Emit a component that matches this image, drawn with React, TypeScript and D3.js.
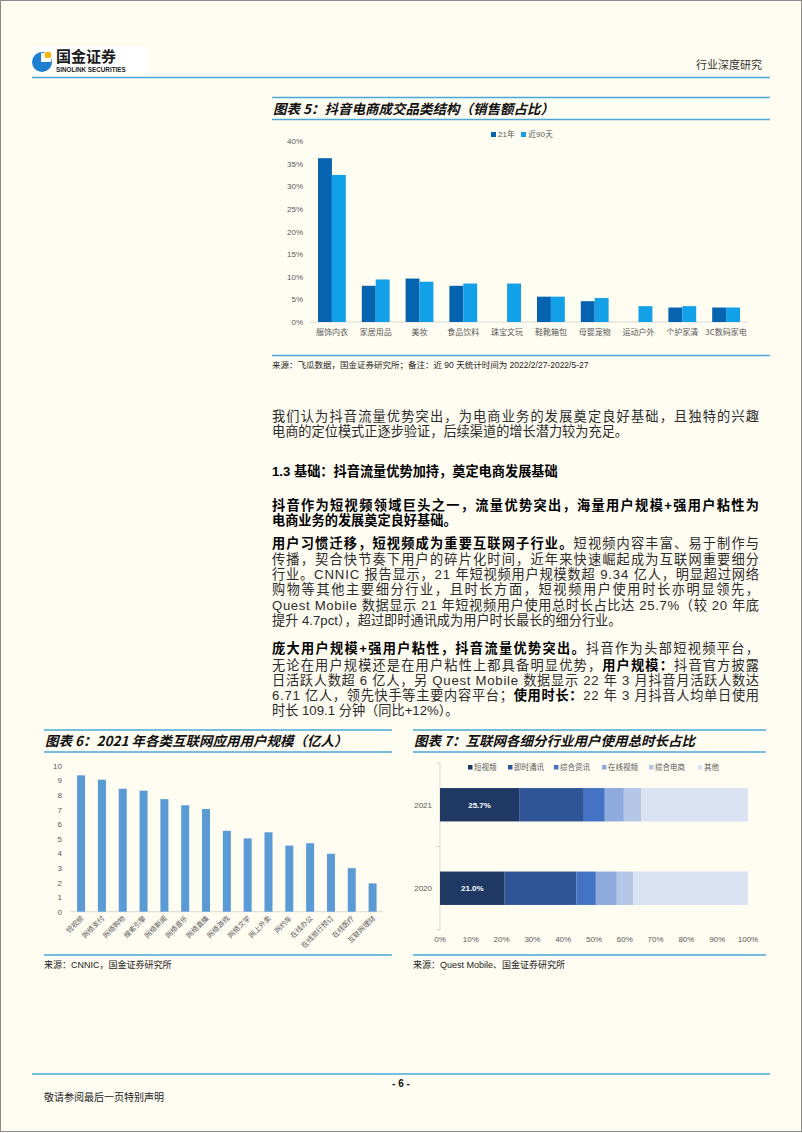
import { useLayoutEffect } from 'react';
import * as d3 from 'd3';

// ---- chart 5 data ----
const c5Cats = ['服饰内衣', '家居用品', '美妆', '食品饮料', '珠宝文玩', '鞋靴箱包', '母婴宠物', '运动户外', '个护家清', '3C数码家电'];
const c5Series = ['21年', '近90天'];
const c5Y21 = [36.2, 8.0, 9.6, 8.0, null, 5.6, 4.6, null, 3.2, 3.2];
const c5Y90 = [32.5, 9.4, 8.9, 8.5, 8.5, 5.6, 5.3, 3.5, 3.5, 3.2];
const c5Ticks = [0, 5, 10, 15, 20, 25, 30, 35, 40];

// ---- chart 6 data ----
const c6Cats = ['短视频', '网络支付', '网络购物', '搜索引擎', '网络新闻', '网络音乐', '网络直播', '网络游戏', '网络文学', '网上外卖', '网约车', '在线办公', '在线旅行预订', '在线医疗', '互联网理财'];
const c6Vals = [9.34, 9.04, 8.42, 8.29, 7.71, 7.29, 7.03, 5.54, 5.02, 5.44, 4.53, 4.69, 3.97, 2.98, 1.94];
const c6Ticks = [0, 1, 2, 3, 4, 5, 6, 7, 8, 9, 10];

// ---- chart 7 data ----
const c7Years = ['2021', '2020'];
const c7Keys = ['短视频', '即时通讯', '综合资讯', '在线视频', '综合电商', '其他'];
const c7Short = [25.7, 21.0];
const c7IM = [21.0, 23.3];
const c7News = [6.8, 6.3];
const c7Video = [6.2, 6.8];
const c7Ecom = [5.6, 5.3];
const c7Other = [34.7, 37.3];
const c7Ticks = [0, 10, 20, 30, 40, 50, 60, 70, 80, 90, 100];

const c7Colors = ['#1f3864', '#2f5597', '#4472c4', '#8faadc', '#b4c7e7', '#dae3f3'];
const LINE = '#4aa8dc';
const SANS = '"Liberation Sans", Arial, "Noto Sans CJK SC", sans-serif';
const CJK = '"Noto Sans CJK SC", "Liberation Sans", sans-serif';
const GRAY = '#595959';

type Seg = { t: string; b?: boolean };
type Line = { y: number; segs: Seg[]; justify?: boolean; bold?: boolean };

const bodyLines: Line[] = [
  { y: 421, justify: true, segs: [{ t: '我们认为抖音流量优势突出，为电商业务的发展奠定良好基础，且独特的兴趣' }] },
  { y: 436, segs: [{ t: '电商的定位模式正逐步验证，后续渠道的增长潜力较为充足。' }] },
  { y: 476, segs: [{ t: '1.3 基础：抖音流量优势加持，奠定电商发展基础', b: true }] },
  { y: 510, justify: true, segs: [{ t: '抖音作为短视频领域巨头之一，流量优势突出，海量用户规模+强用户粘性为', b: true }] },
  { y: 525, segs: [{ t: '电商业务的发展奠定良好基础。', b: true }] },
  { y: 548, justify: true, segs: [{ t: '用户习惯迁移，短视频成为重要互联网子行业。', b: true }, { t: '短视频内容丰富、易于制作与' }] },
  { y: 564, justify: true, segs: [{ t: '传播，契合快节奏下用户的碎片化时间，近年来快速崛起成为互联网重要细分' }] },
  { y: 579, justify: true, segs: [{ t: '行业。CNNIC 报告显示，21 年短视频用户规模数超 9.34 亿人，明显超过网络' }] },
  { y: 594, justify: true, segs: [{ t: '购物等其他主要细分行业，且时长方面，短视频用户使用时长亦明显领先，' }] },
  { y: 610, justify: true, segs: [{ t: 'Quest Mobile 数据显示 21 年短视频用户使用总时长占比达 25.7%（较 20 年底' }] },
  { y: 625, segs: [{ t: '提升 4.7pct），超过即时通讯成为用户时长最长的细分行业。' }] },
  { y: 653, justify: true, segs: [{ t: '庞大用户规模+强用户粘性，抖音流量优势突出。', b: true }, { t: '抖音作为头部短视频平台，' }] },
  { y: 670, justify: true, segs: [{ t: '无论在用户规模还是在用户粘性上都具备明显优势，' }, { t: '用户规模：', b: true }, { t: '抖音官方披露' }] },
  { y: 685, justify: true, segs: [{ t: '日活跃人数超 6 亿人，另 Quest Mobile 数据显示 22 年 3 月抖音月活跃人数达' }] },
  { y: 700, justify: true, segs: [{ t: '6.71 亿人，领先快手等主要内容平台；' }, { t: '使用时长：', b: true }, { t: '22 年 3 月抖音人均单日使用' }] },
  { y: 715, segs: [{ t: '时长 109.1 分钟（同比+12%）。' }] },
];

function Chart5() {
  const x = d3.scaleBand().domain(c5Cats).range([310, 748]).padding(0);
  const x1 = d3.scaleBand().domain(c5Series).range([8, x.step() - 8]);
  const y = d3.scaleLinear().domain([0, 40]).range([322, 141]);
  const cols = ['#0563b0', '#12a0e8'];
  return (
    <g>
      {c5Ticks.map((t) => (
        <text key={t} x={303} y={y(t) + 3} textAnchor="end" fontSize={8} fill={GRAY} fontFamily={SANS}>{t}%</text>
      ))}
      <line x1={310} x2={748} y1={y(0)} y2={y(0)} stroke="#d9d9d9" />
      {c5Cats.map((c, i) => (
        <g key={c}>
          {[c5Y21[i], c5Y90[i]].map((v, j) =>
            v == null ? null : (
              <rect key={j} x={x(c)! + x1(c5Series[j])!} y={y(v)} width={x1.bandwidth()} height={y(0) - y(v)} fill={cols[j]} />
            )
          )}
          <text x={x(c)! + x.bandwidth() / 2} y={335} textAnchor="middle" fontSize={8} fill={GRAY} fontFamily={CJK}>{c}</text>
        </g>
      ))}
      {c5Series.map((s, j) => (
        <g key={s} transform={`translate(${491 + j * 30},132)`}>
          <rect width={5} height={5} fill={cols[j]} />
          <text x={7} y={5} fontSize={8} fill={GRAY} fontFamily={SANS}>{s}</text>
        </g>
      ))}
    </g>
  );
}

function Chart6() {
  const x = d3.scaleBand().domain(c6Cats).range([70.7, 383]).padding(0);
  const y = d3.scaleLinear().domain([0, 10]).range([911.7, 765.7]);
  const bw = 8;
  return (
    <g>
      {c6Ticks.map((t) => (
        <text key={t} x={62} y={y(t) + 3} textAnchor="end" fontSize={8} fill={GRAY} fontFamily={SANS}>{t}</text>
      ))}
      <line x1={70.7} x2={383} y1={y(0)} y2={y(0)} stroke="#d9d9d9" />
      {c6Cats.map((c, i) => {
        const cx = x(c)! + x.bandwidth() / 2;
        return (
          <g key={c}>
            <rect x={cx - bw / 2} y={y(c6Vals[i])} width={bw} height={y(0) - y(c6Vals[i])} fill="#5b9bd5" />
            <text transform={`translate(${cx + 3},${y(0) + 7}) rotate(-45)`} textAnchor="end" fontSize={7} fill={GRAY} fontFamily={CJK}>{c}</text>
          </g>
        );
      })}
    </g>
  );
}

function Chart7() {
  const rows = c7Years.map((yr, i) => ({
    year: yr,
    短视频: c7Short[i],
    即时通讯: c7IM[i],
    综合资讯: c7News[i],
    在线视频: c7Video[i],
    综合电商: c7Ecom[i],
    其他: c7Other[i],
  }));
  const stack = d3.stack<any>().keys(c7Keys);
  const series = stack(rows);
  const x = d3.scaleLinear().domain([0, 100]).range([440, 748]);
  const y = d3.scaleBand().domain(c7Years).range([763, 930]).paddingInner(0.6).paddingOuter(0.3);
  const legendX = [468, 508, 554, 602, 649, 698];
  return (
    <g>
      <line x1={440} x2={440} y1={763} y2={930} stroke="#d9d9d9" />
      {[763, 846.5, 930].map((t) => (
        <line key={t} x1={436} x2={440} y1={t} y2={t} stroke="#d9d9d9" />
      ))}
      {series.map((s, k) =>
        s.map((d) => (
          <rect key={`${k}-${d.data.year}`} x={x(d[0])} y={y(d.data.year)} width={x(d[1]) - x(d[0])} height={y.bandwidth()} fill={c7Colors[k]} />
        ))
      )}
      {rows.map((r) => (
        <g key={r.year}>
          <text x={432} y={y(r.year)! + y.bandwidth() / 2 + 3} textAnchor="end" fontSize={8} fill={GRAY} fontFamily={SANS}>{r.year}</text>
          <text x={x(r.短视频 / 2)} y={y(r.year)! + y.bandwidth() / 2 + 3} textAnchor="middle" fontSize={8} fontWeight="bold" fill="#fff" fontFamily={SANS}>{r.短视频.toFixed(1)}%</text>
        </g>
      ))}
      {c7Ticks.map((t) => (
        <text key={t} x={x(t)} y={942} textAnchor="middle" fontSize={8} fill={GRAY} fontFamily={SANS}>{t}%</text>
      ))}
      {c7Keys.map((k, i) => (
        <g key={k} transform={`translate(${legendX[i]},765)`}>
          <rect width={4.5} height={4.5} fill={c7Colors[i]} />
          <text x={6} y={5} fontSize={7.5} fill={GRAY} fontFamily={CJK}>{k}</text>
        </g>
      ))}
    </g>
  );
}

function Title({ x1, x2, y, text }: { x1: number; x2: number; y: number; text: string }) {
  return (
    <g>
      <line x1={x1} x2={x2} y1={y - 11} y2={y - 11} stroke={LINE} strokeWidth={1.5} />
      <text x={x1 + 1} y={y + 5} fontSize={13.5} fontWeight="bold" fontStyle="italic" fill="#111" fontFamily={CJK}>{text}</text>
      <line x1={x1} x2={x2} y1={y + 11} y2={y + 11} stroke={LINE} strokeWidth={1.5} />
    </g>
  );
}

export default function App() {
  useLayoutEffect(() => {
    document.body.style.margin = '0';
  }, []);
  return (
    <svg width={802} height={1133} style={{ display: 'block' }}>
      <rect x={0.5} y={0.5} width={801} height={1131} fill="#fffcf2" stroke="#8a8a8a" />

      {/* header */}
      <rect x={32} y={47} width={114} height={27} fill="#fff" />
      <circle cx={42} cy={62} r={10} fill="#1e7fd0" />
      <rect x={41} y={53} width={10} height={9} fill="#fff" />
      <circle cx={48} cy={55} r={3.3} fill="#f2b705" />
      <text x={56} y={62} fontSize={15} fontWeight="bold" fill="#1a1a1a" fontFamily={CJK}>国金证券</text>
      <text x={56} y={71.5} fontSize={6.3} fontWeight="bold" fill="#1a1a1a" fontFamily={SANS}>SINOLINK SECURITIES</text>
      <text x={762} y={69} textAnchor="end" fontSize={11} fill="#333" fontFamily={CJK}>行业深度研究</text>
      <line x1={32} x2={770} y1={77.5} y2={77.5} stroke={LINE} strokeWidth={1.5} />

      {/* chart 5 */}
      <Title x1={272} x2={770} y={108.5} text="图表 5：抖音电商成交品类结构（销售额占比）" />
      <Chart5 />
      <line x1={272} x2={770} y1={355.5} y2={355.5} stroke={LINE} strokeWidth={1.5} />
      <text x={272} y={368} fontSize={8.5} fill="#222" fontFamily={SANS}>来源：飞瓜数据，国金证券研究所；备注：近 90 天统计时间为 2022/2/27-2022/5-27</text>

      {/* body text */}
      {bodyLines.map((l, i) => (
        <text
          key={i}
          x={272}
          y={l.y}
          fontSize={13.2}
          fill="#2b2b2b"
          fontFamily={SANS}
          {...(l.justify ? { textLength: 487, lengthAdjust: 'spacing' } : {})}
        >
          {l.segs.map((s, j) => (
            <tspan key={j} fontWeight={s.b ? 'bold' : 'normal'} fill={s.b ? '#000' : '#2b2b2b'}>{s.t}</tspan>
          ))}
        </text>
      ))}

      {/* chart 6 */}
      <Title x1={44} x2={392} y={741} text="图表 6：2021 年各类互联网应用用户规模（亿人）" />
      <Chart6 />
      <line x1={44} x2={392} y1={955} y2={955} stroke={LINE} strokeWidth={1.5} />
      <text x={44} y={968} fontSize={9} fill="#222" fontFamily={SANS}>来源：CNNIC，国金证券研究所</text>

      {/* chart 7 */}
      <Title x1={413} x2={766} y={741} text="图表 7：互联网各细分行业用户使用总时长占比" />
      <Chart7 />
      <line x1={413} x2={766} y1={955} y2={955} stroke={LINE} strokeWidth={1.5} />
      <text x={413} y={968} fontSize={9} fill="#222" fontFamily={SANS}>来源：Quest Mobile、国金证券研究所</text>

      {/* footer */}
      <line x1={32} x2={770} y1={1074} y2={1074} stroke={LINE} strokeWidth={1.5} />
      <text x={401} y={1087} textAnchor="middle" fontSize={10} fontWeight="bold" fill="#111" fontFamily={SANS}>- 6 -</text>
      <text x={44} y={1101} fontSize={10} fill="#222" fontFamily={CJK}>敬请参阅最后一页特别声明</text>
    </svg>
  );
}
